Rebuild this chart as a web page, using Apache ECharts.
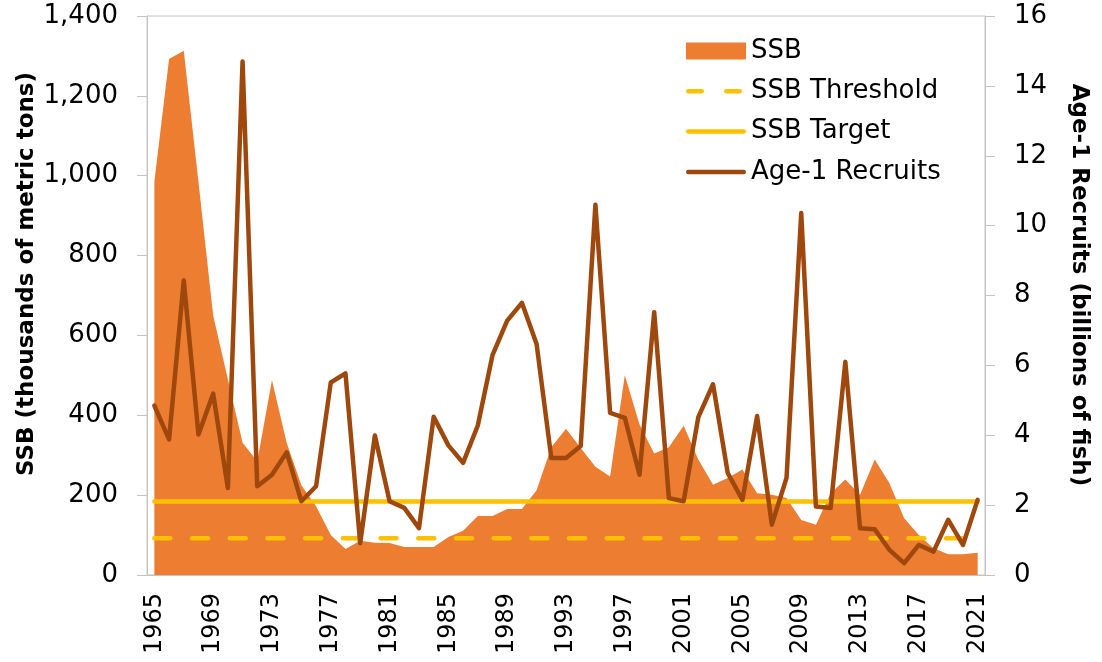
<!DOCTYPE html>
<html>
<head>
<meta charset="utf-8">
<script src="https://cdn.jsdelivr.net/npm/echarts@6/dist/echarts.min.js"></script>
<style>
html,body{margin:0;padding:0;background:#fff;}
#chart{width:1102px;height:662px;}
</style>
</head>
<body>
<div id="chart"></div>
<script>
const years = ['1965','1966','1967','1968','1969','1970','1971','1972','1973','1974','1975','1976','1977','1978','1979','1980','1981','1982','1983','1984','1985','1986','1987','1988','1989','1990','1991','1992','1993','1994','1995','1996','1997','1998','1999','2000','2001','2002','2003','2004','2005','2006','2007','2008','2009','2010','2011','2012','2013','2014','2015','2016','2017','2018','2019','2020','2021'];
const ssb = [985,1292,1313,985,650,490,331,285,488,331,225,172,100,65,86,81,80,70,70,70,95,111,148,148,165,165,212,320,366,318,271,247,500,377,304,320,374,289,226,243,264,205,201,193,138,126,205,239,201,289,230,142,100,67,52,52,56];
const recruits = [4.85,3.88,8.43,4.02,5.19,2.49,14.7,2.54,2.87,3.51,2.11,2.54,5.51,5.77,0.91,3.99,2.11,1.92,1.34,4.53,3.71,3.21,4.28,6.29,7.28,7.79,6.61,3.35,3.35,3.69,10.6,4.64,4.5,2.87,7.52,2.2,2.11,4.52,5.46,2.92,2.15,4.55,1.44,2.78,10.36,1.96,1.92,6.1,1.34,1.31,0.72,0.34,0.86,0.67,1.58,0.86,2.15];
const ssbThresholdLevel = 92;
const ssbTargetLevel = 184;
const leftTicks = [0, 1400, 200];
const rightTicks = [0, 16, 2];

const ssbThreshold = years.map(() => ssbThresholdLevel);
const ssbTarget = years.map(() => ssbTargetLevel);

const C_SSB = '#ED7D31', C_REF = '#FFC000', C_REC = '#9E480E';
const axisColor = '#C4C4C4';

// legend icons (60x17 box)
const box = 'M0,0M60,17';
const seg = (x, w) => `M${x + 2.25},6.25h${w - 4.5}a2.25,2.25,0,0,1,0,4.5h${-(w - 4.5)}a2.25,2.25,0,0,1,0,-4.5z`;
const iconSolid = 'path://' + box + seg(0, 60);
const iconDashed = 'path://' + box + seg(0, 18) + seg(38, 18);

const chart = echarts.init(document.getElementById('chart'));
chart.setOption({
  animation: false,
  backgroundColor: '#fff',
  grid: {left: 147, right: 117, top: 16, bottom: 87, show: true, borderColor: axisColor, borderWidth: 1},
  legend: {
    orient: 'vertical', left: 681, top: 31,
    itemWidth: 60, itemHeight: 17, itemGap: 10.3,
    selectedMode: false,
    textStyle: {fontFamily: 'DejaVu Sans', fontSize: 26, color: '#000', lineHeight: 30},
    data: [
      {name: 'SSB', icon: 'rect', itemStyle: {color: C_SSB, borderWidth: 0}},
      {name: 'SSB Threshold', icon: iconDashed, itemStyle: {color: C_REF, borderWidth: 0}},
      {name: 'SSB Target', icon: iconSolid, itemStyle: {color: C_REF, borderWidth: 0}},
      {name: 'Age-1 Recruits', icon: iconSolid, itemStyle: {color: C_REC, borderWidth: 0}}
    ]
  },
  xAxis: {
    type: 'category', data: years, boundaryGap: true,
    axisLine: {lineStyle: {color: axisColor, width: 1}},
    axisTick: {interval: 0, length: 8, lineStyle: {color: axisColor}},
    axisLabel: {interval: 3, rotate: 90, margin: 18, color: '#000', fontFamily: 'DejaVu Sans', fontSize: 24}
  },
  yAxis: [
    {
      type: 'value', min: leftTicks[0], max: leftTicks[1], interval: leftTicks[2],
      splitLine: {show: false},
      axisLine: {show: true, lineStyle: {color: axisColor, width: 1}},
      axisTick: {show: true, length: 10, lineStyle: {color: axisColor}},
      axisLabel: {margin: 29, color: '#000', fontFamily: 'DejaVu Sans', fontSize: 26,
        formatter: v => v.toLocaleString('en-US')}
    },
    {
      type: 'value', min: rightTicks[0], max: rightTicks[1], interval: rightTicks[2],
      splitLine: {show: false},
      axisLine: {show: true, lineStyle: {color: axisColor, width: 1}},
      axisTick: {show: true, length: 10, lineStyle: {color: axisColor}},
      axisLabel: {margin: 29, color: '#000', fontFamily: 'DejaVu Sans', fontSize: 26}
    }
  ],
  graphic: [
    {type: 'text', x: 27, y: 274, rotation: Math.PI / 2,
      style: {text: 'SSB (thousands of metric tons)', font: 'bold 23px "DejaVu Sans"', fill: '#000',
        textAlign: 'center', textVerticalAlign: 'middle', align: 'center', verticalAlign: 'middle'}},
    {type: 'text', x: 1079, y: 285, rotation: -Math.PI / 2,
      style: {text: 'Age-1 Recruits (billions of fish)', font: 'bold 23px "DejaVu Sans"', fill: '#000',
        textAlign: 'center', textVerticalAlign: 'middle', align: 'center', verticalAlign: 'middle'}}
  ],
  series: [
    {name: 'SSB', type: 'line', yAxisIndex: 0, data: ssb, symbol: 'none', z: 1,
      color: C_SSB, itemStyle: {color: C_SSB},
      lineStyle: {width: 0, color: C_SSB}, areaStyle: {color: C_SSB, opacity: 1}},
    {name: 'SSB Threshold', type: 'line', yAxisIndex: 0, data: ssbThreshold, symbol: 'none', z: 2,
      color: C_REF,
      lineStyle: {width: 4.5, color: C_REF, type: [16, 21.7], cap: 'round'}},
    {name: 'SSB Target', type: 'line', yAxisIndex: 0, data: ssbTarget, symbol: 'none', z: 3,
      color: C_REF,
      lineStyle: {width: 4.5, color: C_REF, cap: 'round'}},
    {name: 'Age-1 Recruits', type: 'line', yAxisIndex: 1, data: recruits, symbol: 'none', z: 4,
      color: C_REC,
      lineStyle: {width: 4.5, color: C_REC, cap: 'round', join: 'round'}}
  ]
});
</script>
</body>
</html>
